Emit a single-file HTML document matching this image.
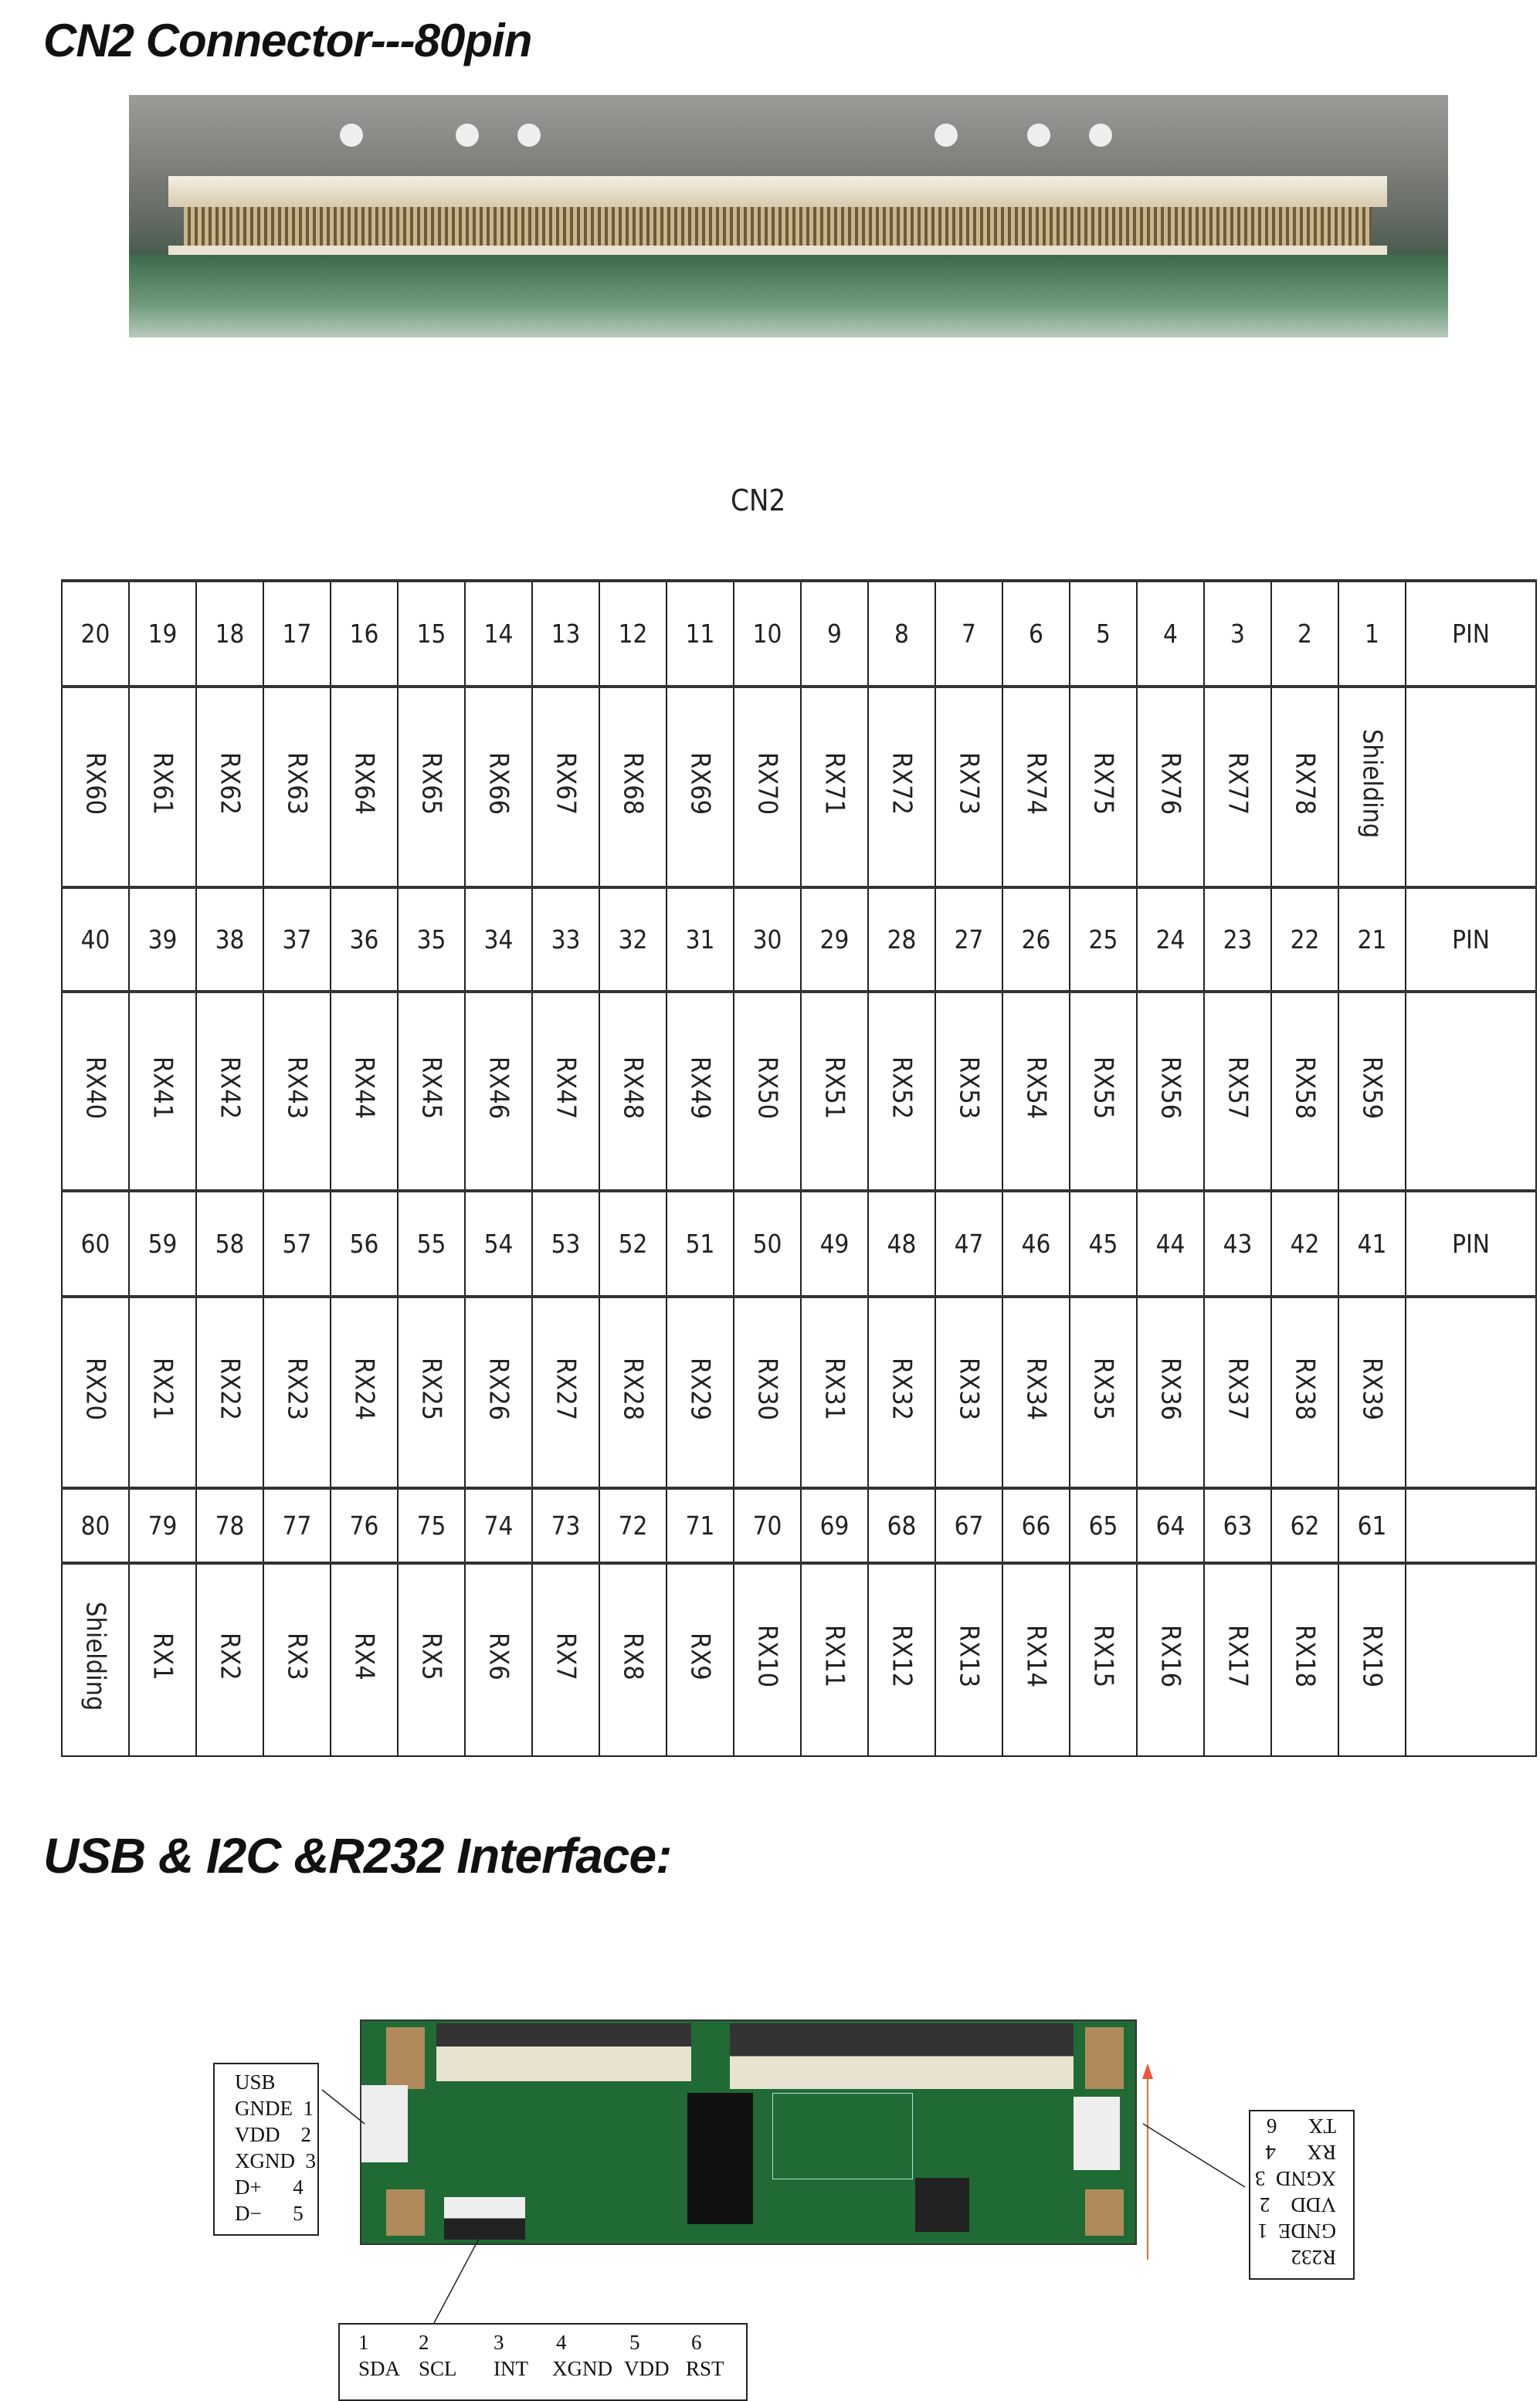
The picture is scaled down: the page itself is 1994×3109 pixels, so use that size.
<!DOCTYPE html>
<html><head><meta charset="utf-8"><style>
body{margin:0;width:1994px;height:3107px;background:#fff;position:relative;overflow:hidden;font-family:"Liberation Sans",sans-serif}
.abs{position:absolute}
h1{position:absolute;margin:0;font-style:italic;font-weight:bold;font-size:58px;color:#111;letter-spacing:-1px}
table{position:absolute;left:79px;top:750px;border-collapse:collapse;table-layout:fixed}
td{border:2px solid #222;padding:0;text-align:center;vertical-align:middle;font-size:34px;color:#222;font-family:"DejaVu Sans Condensed","DejaVu Sans",sans-serif}
tr.n td{font-size:33px}
tr.v td span{writing-mode:vertical-rl;display:inline-block;font-size:34px}
tr.top td{border-top:4px solid #333}
.box{position:absolute;border:2px solid #222;background:#fff;font-family:"Liberation Serif",serif;color:#111}
</style></head><body>
<h1 style="left:56px;top:18px;font-size:60px">CN2 Connector---80pin</h1>
<!-- photo -->
<div class="abs" style="left:167px;top:123px;width:1708px;height:314px;background:linear-gradient(#9a9c98 0%,#7d7f79 30%,#5e6660 55%,#3d5a45 70%,#5f8a6b 85%,#9fb8a3 100%)"></div>
<div class="abs" style="left:440px;top:160px;width:30px;height:30px;border-radius:50%;background:#eee"></div>
<div class="abs" style="left:590px;top:160px;width:30px;height:30px;border-radius:50%;background:#eee"></div>
<div class="abs" style="left:670px;top:160px;width:30px;height:30px;border-radius:50%;background:#eee"></div>
<div class="abs" style="left:1210px;top:160px;width:30px;height:30px;border-radius:50%;background:#eee"></div>
<div class="abs" style="left:1330px;top:160px;width:30px;height:30px;border-radius:50%;background:#eee"></div>
<div class="abs" style="left:1410px;top:160px;width:30px;height:30px;border-radius:50%;background:#eee"></div>
<div class="abs" style="left:218px;top:228px;width:1578px;height:40px;background:linear-gradient(#f4efe2,#d8ccb0)"></div>
<div class="abs" style="left:238px;top:268px;width:1538px;height:50px;background:repeating-linear-gradient(90deg,#c9b68a 0 5px,#6b5a3c 5px 9px)"></div>
<div class="abs" style="left:218px;top:318px;width:1578px;height:12px;background:#e9e3d2"></div>
<div class="abs" style="left:167px;top:330px;width:1708px;height:107px;background:linear-gradient(#3e6b4b,#6f9b7b 60%,#b9cbbb)"></div>
<div class="abs" style="left:946px;top:626px;font-size:38px;color:#222;font-family:'DejaVu Sans Condensed','DejaVu Sans',sans-serif">CN2</div>
<table>
<colgroup><col style="width:87px"><col style="width:87px"><col style="width:87px"><col style="width:87px"><col style="width:87px"><col style="width:87px"><col style="width:87px"><col style="width:87px"><col style="width:87px"><col style="width:87px"><col style="width:87px"><col style="width:87px"><col style="width:87px"><col style="width:87px"><col style="width:87px"><col style="width:87px"><col style="width:87px"><col style="width:87px"><col style="width:87px"><col style="width:87px"><col style="width:169px"></colgroup>
<tr class="n top" style="height:137px"><td>20</td><td>19</td><td>18</td><td>17</td><td>16</td><td>15</td><td>14</td><td>13</td><td>12</td><td>11</td><td>10</td><td>9</td><td>8</td><td>7</td><td>6</td><td>5</td><td>4</td><td>3</td><td>2</td><td>1</td><td>PIN</td></tr>
<tr class="v top" style="height:260px"><td><span>RX60</span></td><td><span>RX61</span></td><td><span>RX62</span></td><td><span>RX63</span></td><td><span>RX64</span></td><td><span>RX65</span></td><td><span>RX66</span></td><td><span>RX67</span></td><td><span>RX68</span></td><td><span>RX69</span></td><td><span>RX70</span></td><td><span>RX71</span></td><td><span>RX72</span></td><td><span>RX73</span></td><td><span>RX74</span></td><td><span>RX75</span></td><td><span>RX76</span></td><td><span>RX77</span></td><td><span>RX78</span></td><td><span>Shielding</span></td><td></td></tr>
<tr class="n top" style="height:135px"><td>40</td><td>39</td><td>38</td><td>37</td><td>36</td><td>35</td><td>34</td><td>33</td><td>32</td><td>31</td><td>30</td><td>29</td><td>28</td><td>27</td><td>26</td><td>25</td><td>24</td><td>23</td><td>22</td><td>21</td><td>PIN</td></tr>
<tr class="v top" style="height:258px"><td><span>RX40</span></td><td><span>RX41</span></td><td><span>RX42</span></td><td><span>RX43</span></td><td><span>RX44</span></td><td><span>RX45</span></td><td><span>RX46</span></td><td><span>RX47</span></td><td><span>RX48</span></td><td><span>RX49</span></td><td><span>RX50</span></td><td><span>RX51</span></td><td><span>RX52</span></td><td><span>RX53</span></td><td><span>RX54</span></td><td><span>RX55</span></td><td><span>RX56</span></td><td><span>RX57</span></td><td><span>RX58</span></td><td><span>RX59</span></td><td></td></tr>
<tr class="n top" style="height:137px"><td>60</td><td>59</td><td>58</td><td>57</td><td>56</td><td>55</td><td>54</td><td>53</td><td>52</td><td>51</td><td>50</td><td>49</td><td>48</td><td>47</td><td>46</td><td>45</td><td>44</td><td>43</td><td>42</td><td>41</td><td>PIN</td></tr>
<tr class="v top" style="height:248px"><td><span>RX20</span></td><td><span>RX21</span></td><td><span>RX22</span></td><td><span>RX23</span></td><td><span>RX24</span></td><td><span>RX25</span></td><td><span>RX26</span></td><td><span>RX27</span></td><td><span>RX28</span></td><td><span>RX29</span></td><td><span>RX30</span></td><td><span>RX31</span></td><td><span>RX32</span></td><td><span>RX33</span></td><td><span>RX34</span></td><td><span>RX35</span></td><td><span>RX36</span></td><td><span>RX37</span></td><td><span>RX38</span></td><td><span>RX39</span></td><td></td></tr>
<tr class="n top" style="height:97px"><td>80</td><td>79</td><td>78</td><td>77</td><td>76</td><td>75</td><td>74</td><td>73</td><td>72</td><td>71</td><td>70</td><td>69</td><td>68</td><td>67</td><td>66</td><td>65</td><td>64</td><td>63</td><td>62</td><td>61</td><td></td></tr>
<tr class="v top" style="height:250px"><td><span>Shielding</span></td><td><span>RX1</span></td><td><span>RX2</span></td><td><span>RX3</span></td><td><span>RX4</span></td><td><span>RX5</span></td><td><span>RX6</span></td><td><span>RX7</span></td><td><span>RX8</span></td><td><span>RX9</span></td><td><span>RX10</span></td><td><span>RX11</span></td><td><span>RX12</span></td><td><span>RX13</span></td><td><span>RX14</span></td><td><span>RX15</span></td><td><span>RX16</span></td><td><span>RX17</span></td><td><span>RX18</span></td><td><span>RX19</span></td><td></td></tr>
</table>
<h1 style="left:56px;top:2366px;font-size:64px">USB &amp; I2C &amp;R232 Interface:</h1>
<!-- PCB -->
<div class="abs" style="left:466px;top:2615px;width:1002px;height:288px;background:#1f6a35;border:2px solid #333"></div>
<div class="abs" style="left:500px;top:2625px;width:50px;height:80px;background:#b08a5a"></div>
<div class="abs" style="left:500px;top:2835px;width:50px;height:60px;background:#b08a5a"></div>
<div class="abs" style="left:1405px;top:2625px;width:50px;height:80px;background:#b08a5a"></div>
<div class="abs" style="left:1405px;top:2835px;width:50px;height:60px;background:#b08a5a"></div>
<div class="abs" style="left:565px;top:2620px;width:330px;height:75px;background:linear-gradient(#333 0 40%,#e8e2d0 40%)"></div>
<div class="abs" style="left:945px;top:2620px;width:445px;height:85px;background:linear-gradient(#333 0 50%,#e8e2d0 50%)"></div>
<div class="abs" style="left:468px;top:2700px;width:60px;height:100px;background:#eee"></div>
<div class="abs" style="left:1390px;top:2715px;width:60px;height:95px;background:#eee"></div>
<div class="abs" style="left:575px;top:2845px;width:105px;height:55px;background:linear-gradient(#eee 50%,#222 50%)"></div>
<div class="abs" style="left:890px;top:2710px;width:85px;height:170px;background:#111"></div>
<div class="abs" style="left:1185px;top:2820px;width:70px;height:70px;background:#222"></div>
<div class="abs" style="left:1000px;top:2710px;width:180px;height:110px;border:1px solid #bdd"></div>
<!-- orange arrow -->
<div class="abs" style="left:1485px;top:2690px;width:2px;height:236px;background:#e07030"></div>
<div class="abs" style="left:1479px;top:2672px;width:0;height:0;border-left:7px solid transparent;border-right:7px solid transparent;border-bottom:20px solid #e53"></div>
<svg class="abs" style="left:0;top:0" width="1994" height="3107"><g stroke="#222" stroke-width="1.5"><line x1="417" y1="2706" x2="472" y2="2750"/><line x1="562" y1="3008" x2="630" y2="2880"/><line x1="1480" y1="2750" x2="1612" y2="2832"/></g></svg>
<div class="box" style="left:276px;top:2671px;width:137px;height:224px;font-size:27px;line-height:34px;padding:0 0 0 26px;box-sizing:border-box;padding-top:6px;white-space:pre">USB
GNDE  1
VDD    2
XGND  3
D+      4
D−      5</div>
<div class="box" style="left:1617px;top:2732px;width:137px;height:220px;font-size:27px;line-height:34px;padding:0 0 0 22px;box-sizing:border-box;padding-top:10px;white-space:pre;transform:rotate(180deg)">R232
GNDE  1
VDD    2
XGND  3
RX      4
TX      6</div>
<div class="box" style="left:438px;top:3008px;width:526px;height:97px;font-size:27px">
<span class="abs" style="left:24px;top:8px">1</span><span class="abs" style="left:102px;top:8px">2</span><span class="abs" style="left:199px;top:8px">3</span><span class="abs" style="left:280px;top:8px">4</span><span class="abs" style="left:375px;top:8px">5</span><span class="abs" style="left:455px;top:8px">6</span>
<span class="abs" style="left:24px;top:42px">SDA</span><span class="abs" style="left:102px;top:42px">SCL</span><span class="abs" style="left:199px;top:42px">INT</span><span class="abs" style="left:275px;top:42px">XGND</span><span class="abs" style="left:368px;top:42px">VDD</span><span class="abs" style="left:448px;top:42px">RST</span></div>
</body></html>
